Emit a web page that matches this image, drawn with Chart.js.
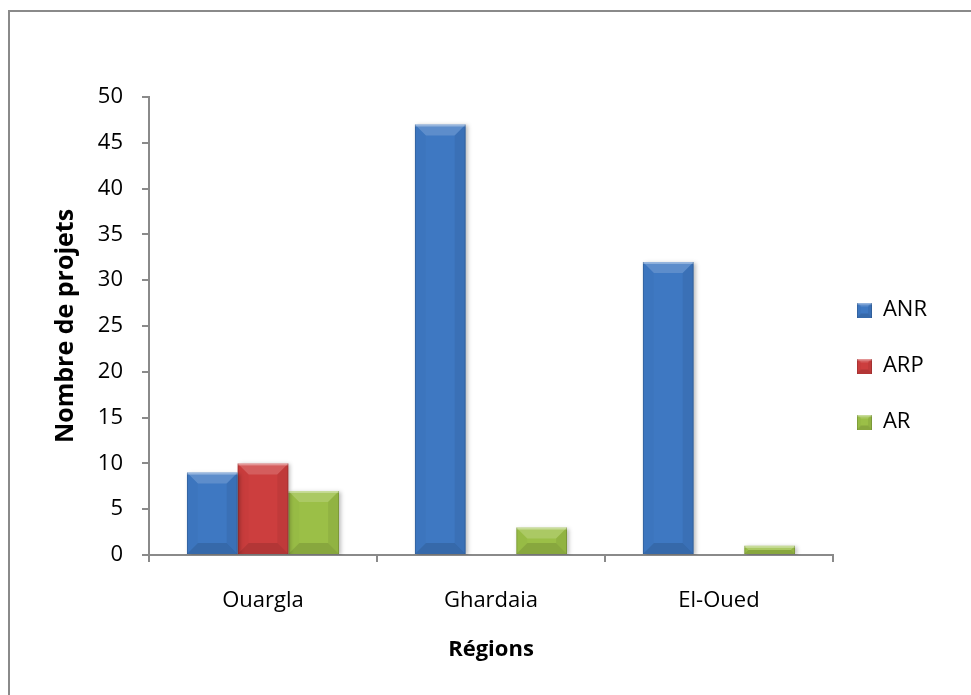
<!DOCTYPE html>
<html>
<head>
<meta charset="utf-8">
<title>Nombre de projets par région</title>
<script src="https://cdn.jsdelivr.net/npm/chart.js@4.4.1/dist/chart.umd.min.js"></script>
<style>
  html, body { margin: 0; padding: 0; background: #fff; }
  #wrap { position: relative; width: 971px; height: 695px; overflow: hidden; }
  #frame { position: absolute; left: 8px; top: 10px; right: -10px; bottom: -10px;
           border-top: 2px solid #8a8a8a; border-left: 2px solid #8a8a8a; }
  #chart { position: absolute; left: 0; top: 0; }
</style>
</head>
<body>
<div id="wrap">
  <div id="frame"></div>
  <canvas id="chart" width="971" height="695"></canvas>
</div>
<script>
// data
const regions = ['Ouargla', 'Ghardaia', 'El-Oued'];
const seriesNames = ['ANR', 'ARP', 'AR'];
const anrValues = [9, 47, 32];
const arpValues = [10, 0, 0];
const arValues = [7, 3, 1];
const yMin = 0;
const yMax = 50;
const yStep = 5;

const seriesColors = ['#3e78c2', '#cc3e3e', '#9bbf47'];
const axisColor = '#8a8a8a';
const fontFamily = '"Open Sans", "DejaVu Sans", sans-serif';

// draws the facet shading of a bevelled box on a 2d context
function drawBevel(ctx, left, top, width, height, size) {
    const right = left + width, bottom = top + height;
    const b = Math.min(size, height / 2, width / 2);
    const facet = (pts, color) => {
        ctx.beginPath();
        ctx.moveTo(pts[0][0], pts[0][1]);
        pts.slice(1).forEach(p => ctx.lineTo(p[0], p[1]));
        ctx.closePath();
        ctx.fillStyle = color;
        ctx.fill();
    };
    facet([[left, top], [right, top], [right - b, top + b], [left + b, top + b]], 'rgba(255,255,255,0.16)');
    facet([[left, bottom], [right, bottom], [right - b, bottom - b], [left + b, bottom - b]], 'rgba(0,0,0,0.12)');
    facet([[right, top], [right, bottom], [right - b, bottom - b], [right - b, top + b]], 'rgba(0,0,0,0.06)');
    facet([[left, top], [left, bottom], [left + b, bottom - b], [left + b, top + b]], 'rgba(0,0,0,0.02)');
    ctx.fillStyle = 'rgba(255,255,255,0.35)';
    ctx.fillRect(left, top, width, Math.min(2, height));
    ctx.fillStyle = 'rgba(0,0,0,0.15)';
    ctx.fillRect(left, top, 1, height);
    ctx.fillRect(left + width - 1, top, 1, height);
}

// small bevelled square used as the legend marker
function legendSwatch(color) {
    const c = document.createElement('canvas');
    c.width = 15;
    c.height = 15;
    const g = c.getContext('2d');
    g.fillStyle = color;
    g.fillRect(0, 0, 15, 15);
    drawBevel(g, 0, 0, 15, 15, 4);
    return c;
}

// soft shadow under the bars, bevel on top of them
const bevelBars = {
    id: 'bevelBars',
    beforeDatasetsDraw(chart) {
        const ctx = chart.ctx;
        ctx.save();
        ctx.shadowColor = 'rgba(0,0,0,0.25)';
        ctx.shadowBlur = 4;
        ctx.shadowOffsetX = 2;
        ctx.shadowOffsetY = 1;
    },
    afterDatasetsDraw(chart) {
        const ctx = chart.ctx;
        ctx.restore();
        chart.data.datasets.forEach((ds, i) => {
            chart.getDatasetMeta(i).data.forEach(bar => {
                const { x, y, base, width } = bar.getProps(['x', 'y', 'base', 'width'], true);
                const top = Math.min(y, base);
                const h = Math.abs(base - y);
                if (h < 1) return;
                ctx.save();
                drawBevel(ctx, x - width / 2, top, width, h, 11);
                ctx.restore();
            });
        });
    }
};

// move the legend block next to the plot
const legendOffset = {
    id: 'legendOffset',
    afterLayout(chart) {
        const lg = chart.legend;
        const dx = -10, dy = -30;
        lg.left += dx; lg.right += dx;
        lg.top += dy; lg.bottom += dy;
    }
};

const valueSets = [anrValues, arpValues, arValues];

new Chart(document.getElementById('chart'), {
    type: 'bar',
    data: {
        labels: regions,
        datasets: seriesNames.map((name, i) => ({
            label: name,
            data: valueSets[i],
            backgroundColor: seriesColors[i],
            borderWidth: 0,
            pointStyle: legendSwatch(seriesColors[i]),
            categoryPercentage: 0.667,
            barPercentage: 1.0,
        })),
    },
    options: {
        responsive: false,
        animation: false,
        devicePixelRatio: 1,
        layout: { padding: { left: 0, top: 97, right: 24, bottom: 0 } },
        plugins: {
            tooltip: { enabled: false },
            legend: {
                position: 'right',
                align: 'center',
                labels: {
                    usePointStyle: true,
                    boxWidth: 15,
                    boxHeight: 15,
                    padding: 34,
                    color: '#000',
                    font: { family: fontFamily, size: 22 },
                },
            },
        },
        scales: {
            x: {
                afterFit: s => { s.height = 140; },
                grid: { drawOnChartArea: false, tickLength: 7, color: axisColor, lineWidth: 2, offset: true },
                border: { color: axisColor, width: 2 },
                ticks: { color: '#000', padding: 26, font: { family: fontFamily, size: 22 } },
                title: {
                    display: true,
                    text: 'Régions',
                    color: '#000',
                    padding: { top: 0, bottom: 32 },
                    font: { family: fontFamily, size: 22, weight: 'bold' },
                },
            },
            y: {
                min: yMin,
                max: yMax,
                afterFit: s => { s.width = 149; },
                grid: { drawOnChartArea: false, tickLength: 7, color: axisColor, lineWidth: 2 },
                border: { color: axisColor, width: 2 },
                ticks: { stepSize: yStep, color: '#000', padding: 19, font: { family: fontFamily, size: 22 } },
                title: {
                    display: true,
                    text: 'Nombre de projets',
                    color: '#000',
                    padding: { top: 51, bottom: 0 },
                    font: { family: fontFamily, size: 25, weight: 'bold' },
                },
            },
        },
    },
    plugins: [bevelBars, legendOffset],
});
</script>
</body>
</html>
